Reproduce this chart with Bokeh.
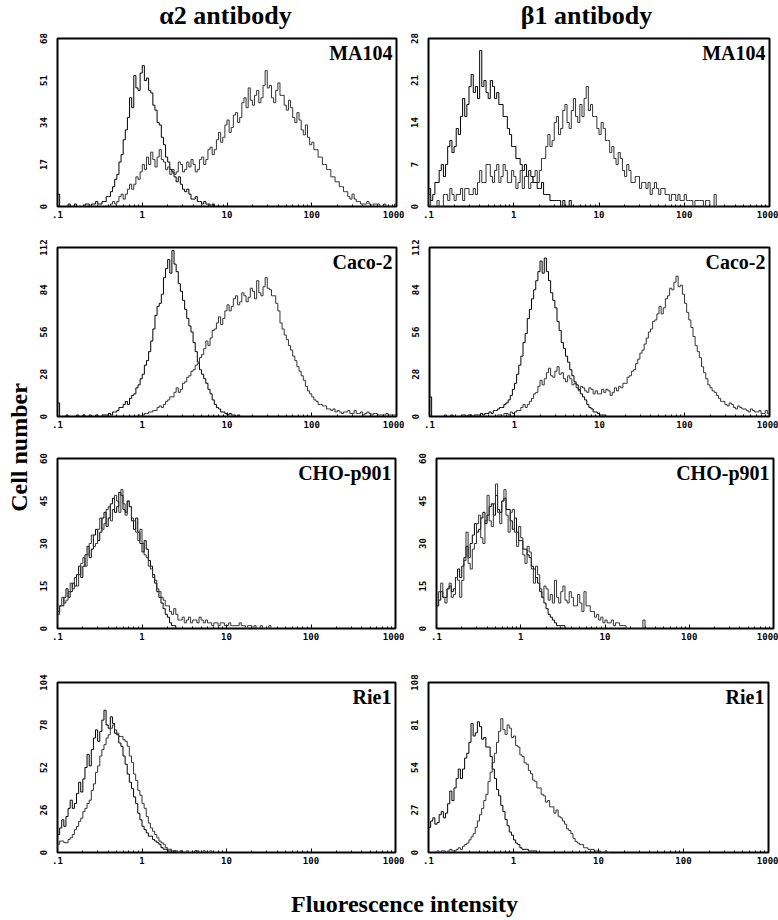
import math
from bokeh.plotting import figure
from bokeh.layouts import row, column
from bokeh.models import Range1d, FixedTicker, Label
from bokeh.embed import file_html
from bokeh.resources import INLINE
from bokeh.core.properties import value

# ---------------- data ----------------
BIN = 0.025  # histogram channel width, in decades of fluorescence

col_titles = ["α2 antibody", "β1 antibody"]
cell_lines = ["MA104", "Caco-2", "CHO-p901", "Rie1"]
x_ticks = [0.1, 1, 10, 100, 1000]
x_tick_labels = [".1", "1", "10", "100", "1000"]
a2_y_ticks = [[0, 17, 34, 51, 68], [0, 28, 56, 84, 112], [0, 15, 30, 45, 60], [0, 26, 52, 78, 104]]
b1_y_ticks = [[0, 7, 14, 21, 28], [0, 28, 56, 84, 112], [0, 15, 30, 45, 60], [0, 27, 54, 81, 108]]

# each histogram: log10 of its first channel edge, then counts per channel
a2_ma104_ctrl_start = -1.0
a2_ma104_ctrl = [5, 0, 0, 0, 0, 1, 0, 0, 1, 0, 0, 0, 0, 1, 1, 0,
                 1, 1, 2, 1, 1, 2, 2, 4, 4, 6, 8, 11, 13, 18, 21, 27, 31, 36, 44, 40, 53, 48, 47, 54,
                 57, 51, 52, 47, 46, 41, 39, 34, 33, 28, 25, 20, 18, 15, 14, 12, 10, 12, 9, 7, 6, 7,
                 5, 3, 3, 4, 2, 2, 1, 2, 1, 1, 0, 1, 0, 0]
a2_ma104_ab_start = -0.40
a2_ma104_ab = [0, 1, 2, 1, 2, 4, 5, 3, 5, 7, 9, 7, 9, 12, 11, 14, 17, 15, 20, 17,
               22, 19, 16, 20, 23, 19, 18, 15, 16, 13, 15, 13, 14, 18, 17, 14, 15, 18, 16, 19,
               17, 14, 15, 19, 20, 17, 19, 23, 24, 21, 23, 27, 30, 26, 28, 33, 35, 30, 32, 37,
               38, 34, 36, 42, 44, 40, 48, 43, 41, 45, 47, 42, 44, 49, 55, 48, 49, 44, 42, 47,
               50, 45, 45, 41, 39, 43, 40, 36, 34, 38, 35, 31, 29, 33, 28, 25, 26, 23, 23, 20,
               20, 17, 17, 15, 15, 12, 12, 10, 10, 8, 8, 6, 6, 4, 3, 5, 3, 2, 2, 1,
               1, 1, 2, 1, 0, 1, 1, 1, 0, 0, 1, 0, 0, 0, 0, 1]

b1_ma104_ctrl_start = -1.0
b1_ma104_ctrl = [3, 1, 2, 4, 4, 6, 7, 5, 7, 10, 11, 9, 10, 13, 12, 15, 18, 15, 17, 20,
                 22, 19, 20, 18, 26, 20, 21, 19, 18, 21, 20, 18, 19, 17, 17, 15, 15, 13, 12, 10,
                 10, 8, 8, 7, 6, 7, 5, 6, 5, 4, 4, 3, 3, 4, 2, 2, 2, 1, 1, 1,
                 1, 1, 0, 1, 0, 0, 1, 0, 0, 0]
b1_ma104_ab_start = -1.0
b1_ma104_ab = [2, 0, 0, 0, 1, 0, 0, 2, 2, 1, 3, 2, 1, 2, 2, 3, 1, 3, 3, 2,
               2, 3, 2, 4, 6, 4, 4, 7, 7, 5, 4, 6, 7, 4, 5, 7, 6, 4, 4, 6,
               5, 3, 4, 6, 3, 5, 5, 3, 4, 5, 6, 4, 6, 8, 8, 10, 12, 10, 11, 14,
               15, 12, 13, 16, 17, 14, 13, 16, 18, 15, 14, 17, 15, 18, 20, 16, 17, 15, 15, 13,
               12, 14, 13, 11, 11, 9, 10, 8, 7, 9, 8, 6, 5, 7, 6, 4, 4, 5, 5, 3,
               4, 4, 3, 4, 2, 3, 4, 3, 2, 3, 3, 2, 2, 1, 2, 2, 1, 2, 1, 1,
               2, 1, 1, 1, 0, 1, 1, 1, 1, 0, 1, 1, 0, 0, 2, 0, 0, 0]

a2_caco2_ctrl_start = -1.0
a2_caco2_ctrl = [9, 0, 0, 0, 1, 0, 0, 0, 0, 1, 0, 0, 1, 0, 0, 1, 0, 0, 1, 0,
                 0, 1, 1, 1, 2, 1, 3, 3, 4, 6, 6, 8, 10, 8, 12, 14, 15, 19, 21, 25,
                 28, 34, 37, 43, 50, 58, 67, 73, 75, 81, 92, 98, 104, 95, 110, 101, 96, 88, 83, 77,
                 71, 65, 60, 56, 49, 43, 36, 31, 28, 25, 22, 18, 15, 11, 8, 6, 5, 3, 3, 2,
                 1, 2, 1, 1, 0, 1, 0, 0]
a2_caco2_ab_start = -0.05
a2_caco2_ab = [1, 0, 1, 2, 2, 3, 3, 4, 4, 6, 7, 6, 8, 10, 11, 13, 13, 16, 19, 16,
               18, 22, 23, 26, 27, 30, 31, 34, 35, 39, 41, 45, 50, 47, 52, 57, 58, 62, 66, 61,
               65, 70, 74, 70, 73, 78, 80, 74, 76, 82, 80, 76, 79, 85, 83, 78, 90, 82, 80, 86,
               92, 85, 84, 80, 80, 75, 70, 62, 58, 54, 51, 47, 44, 40, 37, 33, 30, 27, 24, 20,
               17, 15, 13, 11, 10, 8, 8, 7, 7, 5, 5, 4, 5, 3, 4, 3, 2, 3, 3, 4,
               2, 2, 4, 2, 2, 3, 1, 2, 3, 2, 1, 2, 2, 1, 1, 1, 1, 2, 1, 1, 1, 1]

b1_caco2_ctrl_start = -1.0
b1_caco2_ctrl = [13, 0, 0, 0, 0, 0, 0, 1, 0, 0, 1, 0, 0, 0, 0, 1, 1, 0, 1, 1,
                 0, 1, 1, 1, 2, 1, 2, 2, 3, 2, 4, 4, 5, 6, 6, 8, 9, 11, 14, 18,
                 22, 28, 34, 40, 49, 55, 65, 71, 78, 84, 90, 96, 103, 95, 105, 96, 90, 82, 77, 72,
                 63, 57, 49, 45, 40, 36, 31, 27, 23, 21, 18, 15, 13, 11, 8, 6, 5, 3, 3, 2,
                 1, 1, 1, 0, 0, 0]
b1_caco2_ab_start = -0.20
b1_caco2_ab = [1, 1, 0, 2, 2, 1, 3, 2, 3, 4, 4, 6, 8, 6, 8, 10, 12, 15, 16, 20,
               24, 21, 25, 29, 32, 27, 26, 30, 33, 28, 29, 25, 23, 27, 25, 21, 22, 19, 17, 20,
               19, 17, 16, 19, 18, 15, 17, 15, 15, 18, 16, 18, 17, 14, 16, 19, 17, 20, 19, 22,
               22, 26, 27, 30, 31, 35, 38, 42, 44, 48, 52, 56, 58, 63, 64, 68, 73, 68, 72, 78,
               80, 85, 84, 89, 93, 86, 87, 81, 75, 69, 64, 59, 53, 47, 43, 39, 33, 29, 25, 21,
               19, 17, 16, 14, 12, 10, 10, 8, 7, 9, 8, 6, 5, 7, 6, 5, 5, 4, 3, 5,
               4, 3, 3, 4, 2, 2, 4, 2]

a2_cho_ctrl_start = -1.0
a2_cho_ctrl = [6, 8, 8, 11, 14, 11, 13, 16, 15, 19, 22, 18, 22, 26, 29, 25, 28, 33, 35, 31,
               34, 39, 41, 36, 39, 44, 46, 41, 43, 48, 47, 42, 41, 45, 43, 38, 35, 39, 34, 30,
               27, 31, 28, 24, 22, 19, 16, 13, 11, 9, 7, 5, 4, 2, 1, 1, 0, 0]
a2_cho_ab_start = -1.0
a2_cho_ab = [5, 8, 11, 9, 10, 13, 16, 14, 18, 15, 19, 23, 25, 22, 26, 30, 33, 29, 30, 35,
             39, 35, 37, 42, 43, 38, 42, 47, 45, 41, 49, 44, 40, 45, 43, 39, 38, 34, 31, 35,
             30, 26, 25, 22, 21, 18, 17, 14, 13, 11, 10, 8, 8, 6, 5, 7, 5, 3, 3, 4,
             2, 3, 4, 2, 3, 3, 2, 4, 3, 2, 3, 2, 2, 1, 2, 2, 1, 2, 2, 1,
             1, 2, 1, 1, 1, 1, 2, 1, 1, 0, 1, 1, 0, 1, 0, 0, 1, 0, 0, 0, 1, 0]

b1_cho_ctrl_start = -1.0
b1_cho_ctrl = [8, 10, 13, 11, 11, 14, 15, 13, 14, 18, 21, 18, 22, 25, 29, 25, 30, 33, 37, 34,
               35, 39, 41, 37, 40, 43, 44, 40, 47, 42, 41, 45, 46, 42, 42, 38, 35, 39, 34, 31,
               31, 28, 28, 26, 25, 22, 21, 18, 16, 13, 11, 9, 7, 5, 4, 3, 2, 1, 1, 1,
               1, 0, 0, 0]
b1_cho_ab_start = -1.0
b1_cho_ab = [8, 13, 16, 11, 9, 14, 16, 11, 12, 18, 17, 11, 17, 24, 34, 23, 21, 28, 30, 37,
             40, 32, 30, 38, 47, 38, 36, 44, 51, 41, 37, 45, 49, 40, 34, 41, 42, 34, 29, 36,
             32, 26, 23, 29, 27, 21, 16, 22, 19, 14, 11, 15, 14, 10, 12, 9, 17, 11, 9, 13,
             15, 10, 9, 13, 11, 8, 8, 12, 9, 6, 13, 8, 8, 6, 6, 4, 5, 3, 4, 2,
             3, 2, 2, 3, 1, 2, 2, 1, 1, 1, 0, 0, 0, 0, 0, 0, 0, 0, 3, 0]

a2_rie1_ctrl_start = -1.0
a2_rie1_ctrl = [11, 15, 20, 16, 22, 27, 32, 27, 30, 36, 43, 37, 45, 52, 60, 53, 63, 70, 75, 68,
                74, 81, 87, 78, 76, 83, 79, 73, 72, 67, 65, 59, 54, 48, 43, 39, 34, 30, 24, 20,
                16, 14, 12, 10, 10, 8, 7, 6, 5, 3, 2, 2, 1, 1, 0, 1, 0, 0, 1, 0,
                0, 0, 0, 0, 0, 1, 0, 0]
a2_rie1_ab_start = -1.0
a2_rie1_ab = [5, 7, 7, 6, 6, 8, 9, 11, 14, 16, 19, 21, 25, 27, 30, 32, 38, 42, 49, 53,
              59, 63, 66, 70, 72, 76, 78, 75, 73, 71, 71, 69, 68, 65, 59, 55, 48, 44, 38, 35,
              30, 27, 22, 18, 15, 13, 11, 9, 7, 6, 5, 3, 2, 2, 1, 1, 1, 0, 0, 0,
              0, 1, 0, 0, 0, 0, 1, 0, 0, 1, 0, 0, 1, 0, 0, 0]

b1_rie1_ctrl_start = -1.0
b1_rie1_ctrl = [16, 20, 22, 18, 19, 24, 26, 22, 25, 31, 39, 33, 41, 47, 53, 47, 53, 60, 63, 70,
                82, 74, 76, 83, 80, 72, 73, 67, 67, 61, 53, 47, 40, 36, 30, 26, 21, 17, 13, 11,
                8, 6, 5, 3, 2, 2, 2, 1, 1, 1, 1, 0, 0, 0]
b1_rie1_ab_start = -0.90
b1_rie1_ab = [1, 0, 1, 1, 0, 1, 2, 1, 1, 2, 3, 2, 4, 5, 6, 8, 10, 12, 16, 20,
              24, 28, 33, 37, 45, 51, 57, 63, 70, 77, 85, 78, 75, 81, 79, 73, 74, 68, 67, 62,
              61, 57, 56, 52, 50, 46, 45, 41, 41, 37, 36, 32, 33, 29, 29, 25, 27, 23, 22, 20,
              18, 15, 14, 12, 9, 7, 6, 5, 5, 3, 3, 2, 2, 2, 1, 1, 1, 0, 0, 1, 0, 0]

a2_curves = [
    (a2_ma104_ctrl_start, a2_ma104_ctrl, a2_ma104_ab_start, a2_ma104_ab),
    (a2_caco2_ctrl_start, a2_caco2_ctrl, a2_caco2_ab_start, a2_caco2_ab),
    (a2_cho_ctrl_start, a2_cho_ctrl, a2_cho_ab_start, a2_cho_ab),
    (a2_rie1_ctrl_start, a2_rie1_ctrl, a2_rie1_ab_start, a2_rie1_ab),
]
b1_curves = [
    (b1_ma104_ctrl_start, b1_ma104_ctrl, b1_ma104_ab_start, b1_ma104_ab),
    (b1_caco2_ctrl_start, b1_caco2_ctrl, b1_caco2_ab_start, b1_caco2_ab),
    (b1_cho_ctrl_start, b1_cho_ctrl, b1_cho_ab_start, b1_cho_ab),
    (b1_rie1_ctrl_start, b1_rie1_ctrl, b1_rie1_ab_start, b1_rie1_ab),
]

# ---------------- layout (pixels) ----------------
SERIF = "Liberation Serif"
MONO = "DejaVu Sans Mono"
LEFT_W = 32
HEADER_H = 30
FOOTER_H = 40
# per row: top border, frame height, bottom border
rows_geom = [(8, 168, 26), (15, 169, 26), (16, 170, 28), (26, 170, 26)]
# per row: (left border, frame width, right border) for the alpha2 and beta1 panels
left_geom = [(25, 339, 8), (25, 339, 8), (25, 338, 9), (25, 338, 9)]
right_geom = [(24, 341, 9), (25, 340, 9), (32, 337, 5), (24, 340, 10)]

minor_ticks = [m * d for d in (0.1, 1, 10, 100) for m in range(2, 10)]


def draw_hist(p, start, counts, color, width):
    n = len(counts)
    edges = [10 ** (start + BIN * i) for i in range(n + 1)]
    xs = [edges[0]] + edges
    ys = [0] + list(counts) + [0]
    p.step(xs, ys, mode="after", line_color=color, line_width=width)


def panel(name, yticks, curves, geom, hgeom):
    lb, fw, rb = geom
    tb, fh, bb = hgeom
    p = figure(width=lb + fw + rb, height=tb + fh + bb, x_axis_type="log",
               x_range=Range1d(0.1, 1000), y_range=Range1d(0, yticks[-1]),
               toolbar_location=None, output_backend="svg",
               min_border_left=lb, min_border_right=rb, min_border_top=tb, min_border_bottom=bb)
    p.grid.visible = False
    p.outline_line_color = "black"
    p.outline_line_width = 2
    p.background_fill_color = "white"
    p.border_fill_color = "white"

    xa = p.xaxis[0]
    xa.ticker = FixedTicker(ticks=x_ticks, minor_ticks=minor_ticks)
    xa.major_label_overrides = dict(zip(x_ticks, x_tick_labels))
    xa.axis_line_color = None
    xa.major_tick_in = 4
    xa.major_tick_out = 0
    xa.minor_tick_in = 2
    xa.minor_tick_out = 0
    xa.major_tick_line_color = "black"
    xa.minor_tick_line_color = "black"
    xa.major_label_standoff = 4

    ya = p.yaxis[0]
    ya.ticker = FixedTicker(ticks=yticks)
    ya.axis_line_color = None
    ya.major_tick_line_color = None
    ya.minor_tick_line_color = None
    ya.major_label_orientation = "vertical"
    ya.major_label_standoff = 5

    for ax in (xa, ya):
        ax.major_label_text_font = MONO
        ax.major_label_text_font_style = "bold"
        ax.major_label_text_font_size = "9px"
        ax.major_label_text_color = "black"

    cs, cv, abs_, av = curves
    draw_hist(p, cs, cv, "#000000", 1.0)
    draw_hist(p, abs_, av, "#333333", 1.0)

    p.add_layout(Label(x=1000, y=yticks[-1], x_offset=-4, y_offset=-14.5, text=name,
                       text_align="right", text_baseline="middle", text_font=SERIF,
                       text_font_style="bold", text_font_size="20px", text_color="black"))
    return p


def blank(w, h):
    f = figure(width=w, height=h, x_range=Range1d(0, w), y_range=Range1d(0, h),
               toolbar_location=None, output_backend="svg", min_border=0,
               x_axis_location=None, y_axis_location=None)
    f.grid.visible = False
    f.outline_line_color = None
    return f


panel_rows = []
for i in range(4):
    pl = panel(cell_lines[i], a2_y_ticks[i], a2_curves[i], left_geom[i], rows_geom[i])
    pr = panel(cell_lines[i], b1_y_ticks[i], b1_curves[i], right_geom[i], rows_geom[i])
    panel_rows.append(row(pl, pr, spacing=0))

content_w = sum(left_geom[0]) + sum(right_geom[0])

header = blank(content_w, HEADER_H)
header.text(x=[193, 554], y=[15.5, 15.5], text=col_titles, text_font=value(SERIF),
            text_font_style="bold", text_font_size="26px", text_align="center",
            text_baseline="middle", text_color="black")

footer = blank(content_w, FOOTER_H)
footer.text(x=[372], y=[15], text=["Fluorescence intensity"], text_font=value(SERIF),
            text_font_style="bold", text_font_size="24px", text_align="center",
            text_baseline="middle", text_color="black")

total_h = HEADER_H + sum(sum(g) for g in rows_geom) + FOOTER_H
side = blank(LEFT_W, total_h)
side.text(x=[18], y=[total_h - 447], text=["Cell number"], text_font=value(SERIF),
          text_font_style="bold", text_font_size="24px", text_align="center",
          text_baseline="middle", angle=math.pi / 2, text_color="black")

layout = row(side, column(header, *panel_rows, footer, spacing=0), spacing=0)

open("out.html", "w").write(file_html(layout, INLINE))
